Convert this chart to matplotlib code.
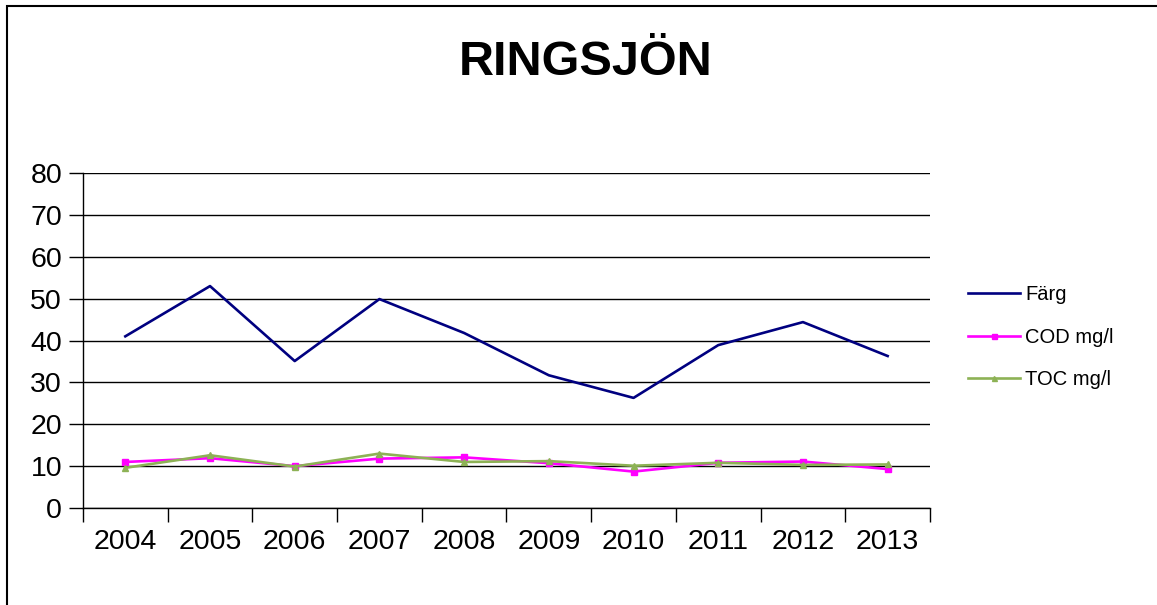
import matplotlib.pyplot as plt
from matplotlib.patches import Rectangle

plt.rcParams['font.family'] = ['Liberation Sans', 'DejaVu Sans']

years = ['2004', '2005', '2006', '2007', '2008', '2009', '2010', '2011', '2012', '2013']
farg = [41.0, 53.0, 35.1, 49.9, 41.8, 31.7, 26.3, 38.9, 44.4, 36.3]
cod = [11.0, 11.9, 10.0, 11.8, 12.1, 10.7, 8.7, 10.8, 11.1, 9.3]
toc = [9.6, 12.6, 9.9, 13.0, 11.0, 11.2, 10.1, 10.8, 10.3, 10.4]

fig = plt.figure(figsize=(11.57, 6.05), dpi=100)
# outer frame (only left and top edges visible)
fig.patches.append(Rectangle((0.006, -0.1), 1.1, 1.09, transform=fig.transFigure,
                             fill=False, edgecolor='black', linewidth=1.5))

ax = fig.add_axes([0.0717, 0.1603, 0.7321, 0.5537])
x = list(range(len(years)))
ax.plot(x, farg, color='#000080', lw=1.9, label='Färg')
ax.plot(x, cod, color='#FF00FF', lw=1.9, marker='s', markersize=4.5, label='COD mg/l')
ax.plot(x, toc, color='#8DB255', lw=1.9, marker='^', markersize=4.5, label='TOC mg/l')

ax.set_xlim(-0.5, len(years) - 0.5)
ax.set_ylim(0, 80)
ax.set_yticks(range(0, 81, 10))
ax.set_xticks([i - 0.5 for i in range(len(years) + 1)])
ax.set_xticklabels([])
ax.set_xticks(x, minor=True)
ax.set_xticklabels(years, minor=True)
ax.tick_params(axis='x', which='minor', length=0, labelsize=20.5, pad=15)
ax.tick_params(axis='x', which='major', length=10, width=1, direction='out')
ax.tick_params(axis='y', length=10, width=1, direction='out', labelsize=20.5, pad=5)
ax.yaxis.grid(True, color='black', lw=1)
ax.set_axisbelow(True)
for s in ['top', 'right']:
    ax.spines[s].set_visible(False)
for s in ['left', 'bottom']:
    ax.spines[s].set_linewidth(1)

fig.text(0.506, 0.897, 'RINGSJÖN', ha='center', va='center', fontsize=35, fontweight='bold')

ax.legend(loc='center left', bbox_to_anchor=(1.023, 0.51), frameon=False, fontsize=14.5,
          handlelength=2.6, handletextpad=0.25, labelspacing=1.17, markerscale=0.8)

fig.savefig('out.png', dpi=100)
